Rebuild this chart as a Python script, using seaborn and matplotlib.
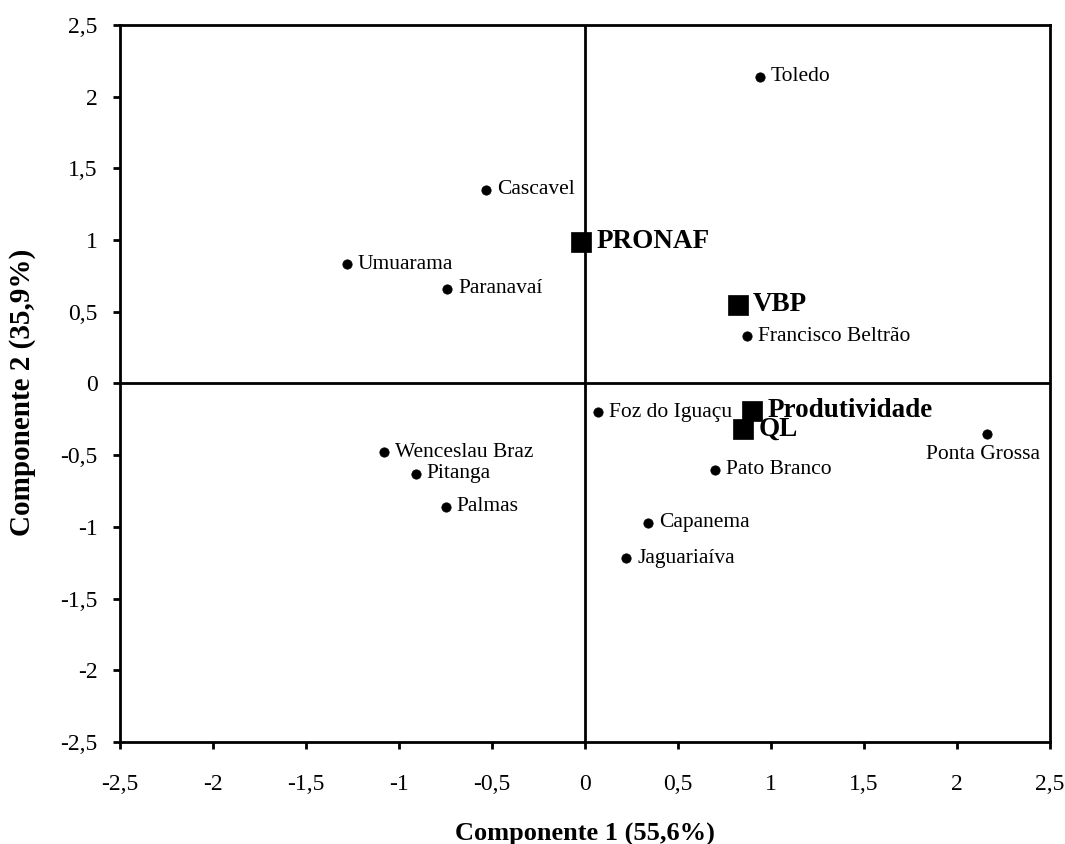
import matplotlib
matplotlib.use("Agg")
import matplotlib.pyplot as plt
import seaborn as sns
import pandas as pd

# Scores of the regions (components 1 and 2)
regioes = ["Toledo", "Cascavel", "Umuarama", "Paranavaí", "Francisco Beltrão",
           "Foz do Iguaçu", "Ponta Grossa", "Pato Branco", "Capanema", "Jaguariaíva",
           "Wenceslau Braz", "Pitanga", "Palmas"]
comp1 = [0.94, -0.53, -1.28, -0.74, 0.87, 0.07, 2.16, 0.70, 0.34, 0.22, -1.08, -0.91, -0.75]
comp2 = [2.14, 1.35, 0.83, 0.66, 0.33, -0.20, -0.35, -0.60, -0.97, -1.22, -0.48, -0.63, -0.86]

# Loadings of the variables
variaveis = ["PRONAF", "VBP", "Produtividade", "QL"]
var1 = [-0.02, 0.82, 0.90, 0.85]
var2 = [0.99, 0.55, -0.19, -0.32]

df_reg = pd.DataFrame({"c1": comp1, "c2": comp2, "nome": regioes})
df_var = pd.DataFrame({"c1": var1, "c2": var2, "nome": variaveis})

sns.set_style("white")
plt.rcParams["font.family"] = ["Liberation Serif", "DejaVu Serif"]
plt.rcParams["text.color"] = "black"
plt.rcParams["axes.labelcolor"] = "black"
plt.rcParams["xtick.color"] = "black"
plt.rcParams["ytick.color"] = "black"

fig = plt.figure(figsize=(10.65, 8.44), dpi=100)
ax = fig.add_axes([0.1127, 0.1209, 0.8732, 0.8495])

ax.axhline(0, color="black", lw=2, zorder=1)
ax.axvline(0, color="black", lw=2, zorder=1)

sns.scatterplot(data=df_reg, x="c1", y="c2", ax=ax, color="black", s=45,
                marker="o", edgecolor="black", zorder=3, legend=False)
sns.scatterplot(data=df_var, x="c1", y="c2", ax=ax, color="black", s=200,
                marker="s", edgecolor="black", linewidth=0.5, zorder=3, legend=False)

for _, r in df_reg.iterrows():
    if r["nome"] == "Ponta Grossa":
        ax.annotate(r["nome"], (r["c1"], r["c2"]), xytext=(-3, -15),
                    textcoords="offset points", ha="center", va="center", fontsize=15.5)
    else:
        ax.annotate(r["nome"], (r["c1"], r["c2"]), xytext=(8, 0),
                    textcoords="offset points", ha="left", va="center", fontsize=15.5)

for _, r in df_var.iterrows():
    ax.annotate(r["nome"], (r["c1"], r["c2"]), xytext=(11, 0),
                textcoords="offset points", ha="left", va="center",
                fontsize=19.5, fontweight="bold")

ax.set_xlim(-2.5, 2.5)
ax.set_ylim(-2.5, 2.5)
ticks = [-2.5, -2, -1.5, -1, -0.5, 0, 0.5, 1, 1.5, 2, 2.5]
labels = [("%g" % t).replace(".", ",") for t in ticks]
ax.set_xticks(ticks)
ax.set_xticklabels(labels)
ax.set_yticks(ticks)
ax.set_yticklabels(labels)
ax.tick_params(direction="out", length=5, width=2, labelsize=17,
               bottom=True, left=True)
ax.tick_params(axis="x", pad=18)
ax.tick_params(axis="y", pad=11)

for sp in ax.spines.values():
    sp.set_visible(True)
    sp.set_color("black")
    sp.set_linewidth(2)

ax.set_xlabel("Componente 1 (55,6%)", fontsize=19, fontweight="bold", labelpad=20)
ax.set_ylabel("Componente 2 (35,9%)", fontsize=21, fontweight="bold")
ax.yaxis.set_label_coords(-0.09, 0.488)

fig.savefig("out.png", dpi=100)
